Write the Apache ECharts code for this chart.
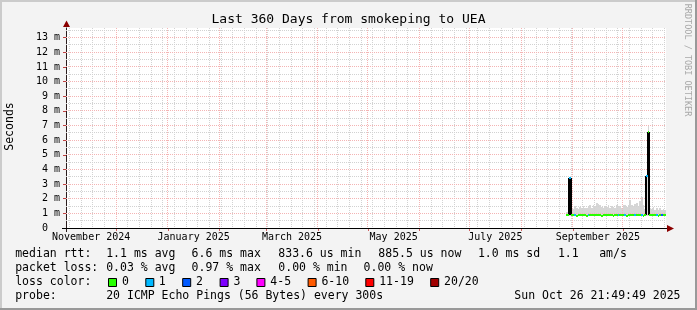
<!DOCTYPE html>
<html><head><meta charset="utf-8">
<script src="https://cdn.jsdelivr.net/npm/echarts@6/dist/echarts.min.js"></script>
<style>html,body{margin:0;padding:0;background:#f3f3f3}#c{width:697px;height:310px}</style>
</head><body><div id="c"></div>
<script>
// ---------------- data ----------------
const chartTitle = 'Last 360 Days from smokeping to UEA';
const yAxisName = 'Seconds';
const watermark = 'RRDTOOL / TOBI OETIKER';

const dates = [
 '2025-08-28','2025-08-29','2025-08-30','2025-08-31',
 '2025-09-01','2025-09-02','2025-09-03','2025-09-04','2025-09-05','2025-09-06','2025-09-07','2025-09-08','2025-09-09','2025-09-10',
 '2025-09-11','2025-09-12','2025-09-13','2025-09-14','2025-09-15','2025-09-16','2025-09-17','2025-09-18','2025-09-19','2025-09-20',
 '2025-09-21','2025-09-22','2025-09-23','2025-09-24','2025-09-25','2025-09-26','2025-09-27','2025-09-28','2025-09-29','2025-09-30',
 '2025-10-01','2025-10-02','2025-10-03','2025-10-04','2025-10-05','2025-10-06','2025-10-07','2025-10-08','2025-10-09','2025-10-10',
 '2025-10-11','2025-10-12','2025-10-13','2025-10-14','2025-10-15','2025-10-16','2025-10-17','2025-10-18','2025-10-19','2025-10-20',
 '2025-10-21','2025-10-22','2025-10-23','2025-10-24','2025-10-25','2025-10-26'
];
// median rtt in ms
const medianMs = [
 0.86,0.86,3.43,0.87,0.86,0.86,0.85,0.86,0.86,0.87,
 0.86,0.86,0.85,0.86,0.87,0.86,0.86,0.86,0.87,0.86,
 0.86,0.85,0.86,0.86,0.86,0.87,0.86,0.86,0.85,0.86,
 0.86,0.86,0.87,0.86,0.86,0.86,0.85,0.86,0.87,0.86,
 0.86,0.86,0.86,0.87,0.86,0.86,0.85,0.86,3.55,6.55,
 0.86,0.86,0.87,0.86,0.86,0.85,0.86,0.86,0.86,0.86
];
// smoke (ping spread) lower and upper edge in ms
const smokeLowMs = [
 0.80,0.80,0.80,0.80,0.80,0.80,0.80,0.80,0.80,0.80,
 0.80,0.80,0.80,0.80,0.80,0.80,0.80,0.80,0.80,0.80,
 0.80,0.80,0.80,0.80,0.80,0.80,0.80,0.80,0.80,0.80,
 0.80,0.80,0.80,0.80,0.80,0.80,0.80,0.80,0.80,0.80,
 0.80,0.80,0.80,0.80,0.80,0.80,0.80,0.80,0.80,0.80,
 0.80,0.80,0.80,0.80,0.80,0.80,0.80,0.80,0.80,0.80
];
const smokeHighMs = [
 1.10,1.15,3.50,1.40,1.30,1.50,1.35,1.30,1.45,1.35,
 1.50,1.40,1.35,1.45,1.55,1.40,1.60,1.50,1.70,1.65,
 1.55,1.45,1.40,1.50,1.45,1.55,1.40,1.50,1.45,1.40,
 1.55,1.45,1.50,1.40,1.60,1.55,1.45,1.60,1.90,1.55,
 1.50,1.65,1.70,1.50,1.85,2.10,1.60,1.30,3.60,7.00,
 1.40,1.30,1.45,1.25,1.35,1.20,1.40,1.25,1.30,1.20
];
// lost pings (of 20) per point
const lostPings = [
 0,0,1,0,0,1,0,0,0,0,
 0,0,0,1,0,0,0,0,0,0,
 0,0,0,0,0,0,0,0,0,0,
 0,1,0,0,0,1,0,0,0,0,
 0,1,0,0,0,1,0,0,1,0,
 0,0,0,0,1,0,0,2,0,0
];
const yTickValues = [0,1,2,3,4,5,6,7,8,9,10,11,12,13];
const xLabelMonths = ['2024-11','2025-01','2025-03','2025-05','2025-07','2025-09'];
const xLabelTexts = ['November 2024','January 2025','March 2025','May 2025','July 2025','September 2025'];
const monthLines = ['2024-12-01','2025-01-01','2025-02-01','2025-03-01','2025-04-01','2025-05-01','2025-06-01','2025-07-01','2025-08-01','2025-09-01','2025-10-01'];
const firstWeekLine = '2024-11-03';
const endStamp = '2025-10-26 21:49:49';
const spanDays = 360;

const rttStats = [['median rtt:',16],['1.1 ms avg',107],['6.6 ms max',192.4],['833.6 us min',279.1],['885.5 us now',379.1],['1.0 ms sd',478.7],['1.1',558.7],['am/s',600]];
const lossStats = [['packet loss:',16],['0.03 % avg',107],['0.97 % max',192.4],['0.00 % min',279.1],['0.00 % now',364.4]];
const lossBins = ['0','1','2','3','4-5','6-10','11-19','20/20'];
const lossBinMax = [0,1,2,3,5,10,19,20];
const lossColors = ['#26ff00','#00b8ff','#0059ff','#7e00ff','#ff00ff','#ff5a00','#ff0000','#a10000'];
const lossBoxX = [108,145.3,182.2,219.6,256.4,307.6,365.3,430.2];
const lossTextX = [122.7,159.6,196.9,234.2,271.1,322.2,380,444.9];
const probeText = '20 ICMP Echo Pings (56 Bytes) every 300s';
const dateText = 'Sun Oct 26 21:49:49 2025';

// ---------------- build ----------------
const DAY = 86400000;
function ts(s){ const p = s.split(/[- :]/).map(Number); return new Date(p[0], p[1]-1, p[2]||1, p[3]||0, p[4]||0, p[5]||0).getTime(); }
const endTime = ts(endStamp);
const startTime = endTime - spanDays*DAY;
const dateTs = dates.map(ts);
function lossColor(n){ for (let k=0;k<lossBinMax.length;k++){ if (n<=lossBinMax[k]) return lossColors[k]; } return lossColors[lossColors.length-1]; }

const xLabelTs = xLabelMonths.map(m => { const a = ts(m+'-01'); const d = new Date(a); const b = new Date(d.getFullYear(), d.getMonth()+1, 1).getTime(); return (a+b)/2; });
const monthTs = monthLines.map(ts);
const weekTs = [];
{ const d0 = new Date(ts(firstWeekLine)); for (let k=0;;k++){ const t = new Date(d0.getFullYear(), d0.getMonth(), d0.getDate()+7*k).getTime(); if (t>endTime) break; weekTs.push(t);} }
const yMinor = []; for (let v=0.5; v<13.66; v+=1) yMinor.push(v);
const yMajor = yTickValues.filter(v=>v>0);

const FONT = '"DejaVu Sans Mono", monospace';
const MINOR = '#d2d2d2', MAJOR = '#f4b4b4';
// grid rows: [kind(0=vertical,1=horizontal), value, major?]
const gridRows = []
 .concat(weekTs.map(t=>[0,t,0]))
 .concat(yMinor.map(v=>[1,v,0]))
 .concat(monthTs.map(t=>[0,t,1]))
 .concat(yMajor.map(v=>[1,v,1]));

const G = {left:66, top:28, width:600, height:200};

const chart = echarts.init(document.getElementById('c'), null, {renderer:'canvas'});
const graphics = [];
function txt(s, x, y, size, opts){ graphics.push(Object.assign({type:'text', z:100, style:Object.assign({text:s, x:x, y:y, font: size+'px '+FONT, fill:'#000', align:'left', verticalAlign:'middle'}, opts||{})})); }
// frame
graphics.push({type:'rect', z:99, shape:{x:0,y:0,width:697,height:2}, style:{fill:'#cbcbcb'}});
graphics.push({type:'rect', z:99, shape:{x:0,y:0,width:2,height:310}, style:{fill:'#cbcbcb'}});
graphics.push({type:'rect', z:99, shape:{x:0,y:308,width:697,height:2}, style:{fill:'#999999'}});
graphics.push({type:'rect', z:99, shape:{x:695,y:0,width:2,height:310}, style:{fill:'#999999'}});
// axis arrows / extensions
graphics.push({type:'line', z:50, shape:{x1:66.5,y1:228,x2:66.5,y2:232}, style:{stroke:'#2b1d1d', lineWidth:1}});
graphics.push({type:'line', z:50, shape:{x1:62,y1:228.5,x2:668,y2:228.5}, style:{stroke:'#000', lineWidth:1}});
graphics.push({type:'polygon', z:51, shape:{points:[[63,27],[70,27],[66.5,20.5]]}, style:{fill:'#8b0000'}});
graphics.push({type:'polygon', z:51, shape:{points:[[667,225],[667,232],[674,228.5]]}, style:{fill:'#8b0000'}});
// title, unit, watermark
txt(chartTitle, 348.5, 20, 13, {align:'center'});
graphics.push({type:'text', z:100, x:10, y:126.5, rotation:Math.PI/2, style:{text:yAxisName, x:0, y:0, font:'11.5px '+FONT, fill:'#000', align:'center', verticalAlign:'middle'}});
graphics.push({type:'text', z:100, x:687.5, y:60, rotation:-Math.PI/2, style:{text:watermark, x:0, y:0, font:'8.5px '+FONT, fill:'#a8a8a8', align:'center', verticalAlign:'middle'}});
// legend rows
rttStats.forEach(r=>txt(r[0], r[1]-0.8, 254.5, 11.5));
lossStats.forEach(r=>txt(r[0], r[1]-0.8, 268.5, 11.5));
txt('loss color:', 15.2, 282.5, 11.5);
lossBins.forEach((b,k)=>{
  graphics.push({type:'rect', z:100, shape:{x:lossBoxX[k]+0.5, y:278.5, width:8, height:8}, style:{fill:lossColors[k], stroke:'#000', lineWidth:1}});
  txt(b, lossTextX[k]-0.8, 282.5, 11.5);
});
txt('probe:', 15.2, 296.5, 11.5);
txt(probeText, 106.2, 296.5, 11.5);
txt(dateText, 680.5, 296.5, 11.5, {align:'right'});

const smokeData = dateTs.map((t,i)=>[t, smokeLowMs[i], smokeHighMs[i]]);
const medData = dateTs.map((t,i)=>[t, medianMs[i], lostPings[i], i>0?medianMs[i-1]:medianMs[i]]);

chart.setOption({
  animation:false,
  backgroundColor:'#f3f3f3',
  grid:Object.assign({show:true, backgroundColor:'#ffffff', borderWidth:0}, G),
  xAxis:{type:'value', min:startTime, max:endTime, scale:true,
    axisLine:{show:false},
    axisTick:{show:true, customValues:monthTs, length:3, inside:false, lineStyle:{color:'#d06060', width:1}},
    axisLabel:{show:true, customValues:xLabelTs, hideOverlap:false, showMinLabel:true, showMaxLabel:true,
      formatter:function(v){ let best=0; for(let k=1;k<xLabelTs.length;k++){ if(Math.abs(xLabelTs[k]-v)<Math.abs(xLabelTs[best]-v)) best=k;} return xLabelTexts[best]; },
      fontFamily:FONT, fontSize:10, color:'#000', margin:4},
    splitLine:{show:false}},
  yAxis:{type:'value', min:0, max:13.66,
    axisLine:{show:true, lineStyle:{color:'#2b1d1d', width:1}},
    axisTick:{show:true, customValues:yTickValues, length:3, inside:false, lineStyle:{color:'#c04040', width:1}},
    axisLabel:{show:true, customValues:yTickValues, hideOverlap:false, formatter:function(v){ return v===0 ? '0  ' : (Math.round(v)+' m'); },
      fontFamily:FONT, fontSize:10, color:'#000', margin:6, align:'right'},
    splitLine:{show:false}},
  graphic:graphics,
  series:[
    {type:'custom', name:'smoke', z:1, clip:true, silent:true,
      encode:{x:0, y:[1,2]},
      renderItem:function(params, api){
        const t0 = api.value(0), lo = api.value(1), hi = api.value(2);
        const p0 = api.coord([t0, hi]), p1 = api.coord([t0+DAY, lo]);
        const x0 = Math.round(p0[0]), x1 = Math.round(p1[0]);
        return {type:'rect', shape:{x:x0, y:Math.round(p0[1]), width:x1-x0, height:Math.round(p1[1])-Math.round(p0[1])}, style:{fill:'#d6d6d6'}};
      },
      data:smokeData},
    {type:'custom', name:'grid', z:3, clip:false, silent:true,
      renderItem:function(params, api){
        const cs = params.coordSys;
        const kind = api.value(0), v = api.value(1), major = api.value(2);
        const color = major ? MAJOR : MINOR;
        if (kind === 0) {
          const x = Math.floor(api.coord([v, 0])[0]) + 0.5;
          return {type:'line', shape:{x1:x, y1:cs.y, x2:x, y2:cs.y+cs.height}, style:{stroke:color, lineWidth:1, lineDash:[1,1]}};
        }
        const y = Math.floor(api.coord([startTime, v])[1]) + 0.5;
        return {type:'line', shape:{x1:cs.x, y1:y, x2:cs.x+cs.width, y2:y}, style:{stroke:color, lineWidth:1, lineDash:[1,1]}};
      },
      data:gridRows},
    {type:'custom', name:'median steps', z:10, clip:true, silent:true,
      encode:{x:0, y:1},
      renderItem:function(params, api){
        const t0 = api.value(0), m = api.value(1), prev = api.value(3);
        if (prev === m) return {type:'group', children:[]};
        const a = api.coord([t0, m]), c = api.coord([t0, prev]);
        const x = Math.round(a[0]);
        return {type:'line', shape:{x1:x, y1:Math.round(c[1]), x2:x, y2:Math.round(a[1])}, style:{stroke:'#000', lineWidth:2}};
      },
      data:medData},
    {type:'custom', name:'median', z:11, clip:true, silent:true,
      encode:{x:0, y:1},
      renderItem:function(params, api){
        const t0 = api.value(0), m = api.value(1), loss = api.value(2);
        const a = api.coord([t0, m]), b = api.coord([t0+DAY, m]);
        const y = Math.round(a[1]);
        return {type:'line', shape:{x1:Math.round(a[0]), y1:y, x2:Math.round(b[0]), y2:y}, style:{stroke:lossColor(loss), lineWidth:2}};
      },
      data:medData}
  ]
});
</script></body></html>
